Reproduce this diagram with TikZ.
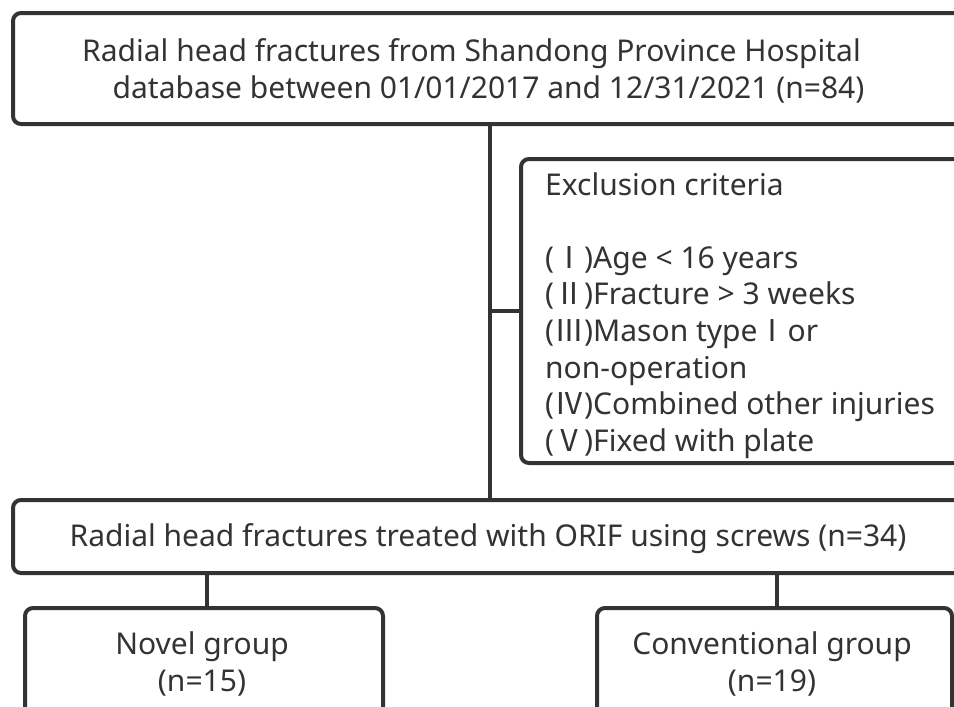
\documentclass[tikz,border=0pt]{standalone}
\usepackage{fontspec}
\setmainfont{Noto Sans}
\newfontfamily\cjk{Noto Sans CJK SC}
\newcommand{\rn}[1]{{\cjk #1}}
\definecolor{ink}{HTML}{333333}
\begin{document}
\begin{tikzpicture}[x=1pt,y=-1pt,
  box/.style={draw=ink, line width=4pt, rounded corners=8pt, outer sep=0pt, inner sep=0pt, anchor=north west},
  txt/.style={text=ink, font=\fontsize{30}{37.5}\selectfont, inner sep=0pt},
  link/.style={draw=ink, line width=4pt}]
\useasboundingbox (0,0) rectangle (954,707);
\clip (0,0) rectangle (954,707);
\fill[white] (0,0) rectangle (954,707);
% boxes
\node[box, minimum width=970pt, minimum height=111pt] (top) at (13,13) {};
\node[box, minimum width=500pt, minimum height=304pt] (excl) at (521,159) {};
\node[box, minimum width=970pt, minimum height=73pt] (mid) at (13,500) {};
\node[box, minimum width=358pt, minimum height=150pt] (novel) at (25,608) {};
\node[box, minimum width=355pt, minimum height=150pt] (conv) at (597,608) {};
% texts
\node[txt, align=center] (toptext) at (480,71) {Radial head fractures from Shandong Province Hospital\hspace*{17pt}\\ \hspace*{17pt}database between 01/01/2017 and 12/31/2021 (n=84)};
\node[txt, align=left, anchor=north west, font=\fontsize{30}{36.6}\selectfont] (excltext) at (545,172) {Exclusion criteria\\ \\ (\rn{Ⅰ})Age < 16 years\\ (\rn{Ⅱ})Fracture > 3 weeks\\ (\rn{Ⅲ})Mason type\rn{Ⅰ}or\\ non-operation\\ (\rn{Ⅳ})Combined other injuries\\ (\rn{Ⅴ})Fixed with plate};
\node[txt] (midtext) at (488,539) {Radial head fractures treated with ORIF using screws (n=34)};
\node[txt, align=center] (noveltext) at (202,664) {Novel group\\ (n=15)};
\node[txt, align=center] (convtext) at (772,664) {Conventional group\\ (n=19)};
% connectors
\coordinate (trunk) at (490,0);
\coordinate (b1) at (207,0);
\coordinate (b2) at (777,0);
\draw[link] (top.south -| trunk) -- (mid.north -| trunk);
\draw[link] (excl.west -| trunk) -- (excl.west);
\draw[link] (mid.south -| b1) -- (novel.north -| b1);
\draw[link] (mid.south -| b2) -- (conv.north -| b2);
\end{tikzpicture}
\end{document}
